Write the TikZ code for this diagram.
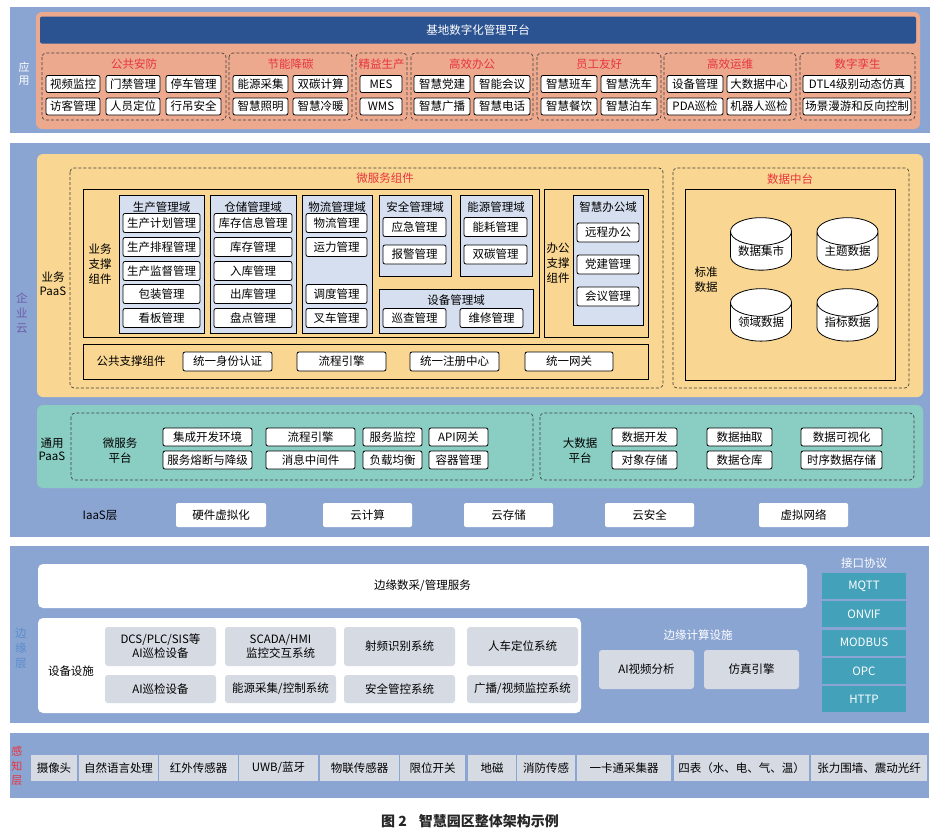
\documentclass[tikz,border=0pt]{standalone}
\usepackage{fontspec}
\setmainfont{Noto Sans CJK SC}
\usetikzlibrary{shapes.geometric}
\definecolor{layerblue}{RGB}{139,165,211}
\definecolor{appsalmon}{RGB}{236,169,141}
\definecolor{platblue}{RGB}{44,83,145}
\definecolor{paasyellow}{RGB}{249,214,145}
\definecolor{paasteal}{RGB}{138,205,194}
\definecolor{domainblue}{RGB}{214,223,240}
\definecolor{devgray}{RGB}{213,218,227}
\definecolor{prototeal}{RGB}{67,161,186}
\definecolor{titlered}{RGB}{232,52,62}
\definecolor{cloudpurple}{RGB}{108,92,168}
\definecolor{edgelabel}{RGB}{90,140,205}

\begin{document}
\begin{tikzpicture}[x=1pt,y=-1pt,font=\fontsize{11.5}{14}\selectfont]
  \tikzstyle{itembox}=[draw=black,fill=white,rounded corners=2pt,inner sep=0pt,line width=0.8pt]
  \tikzstyle{grp}=[draw=black!75,dash pattern=on 3pt off 2pt,line width=0.7pt,rounded corners=4pt]
  \tikzstyle{domainbox}=[draw=black,fill=domainblue,line width=0.8pt]
  \tikzstyle{solidframe}=[draw=black,line width=0.8pt]
  \tikzstyle{grptitle}=[text=titlered]
  \tikzstyle{lbl}=[align=center,inner sep=0pt,font=\fontsize{11.5}{15}\selectfont]
  \tikzstyle{graybox}=[fill=devgray,rounded corners=3pt,inner sep=0pt,align=center]
  \tikzstyle{cloudbox}=[fill=white,rounded corners=2pt,inner sep=0pt]
  \tikzstyle{proto}=[fill=prototeal,text=white,inner sep=0pt,minimum width=84pt,minimum height=26pt]
  \tikzstyle{db}=[cylinder,shape border rotate=90,aspect=0.6,draw=black,fill=white,line width=0.8pt,minimum width=61pt,minimum height=48pt,inner sep=0pt]

  \useasboundingbox (0,0) rectangle (938,836);
  \fill[white] (0,0) rectangle (938,836);

  % application layer
  \fill[layerblue] (10,7) rectangle (930,133);
  \node[lbl,text=white,font=\fontsize{11}{12.5}\selectfont] (l-app) at (24,74) {应\\用};
  \fill[appsalmon,rounded corners=6pt] (36,12) rectangle (920,129);
  \node[fill=platblue,text=white,rounded corners=2pt,minimum width=876pt,minimum height=27pt] (plat) at (478,30) {基地数字化管理平台};
  \foreach \title/\xa/\xb [count=\i] in {公共安防/42/226, 节能降碳/229/352, 精益生产/356/407, 高效办公/411/533, 员工友好/537/661, 高效运维/664/796, 数字孪生/800/915}{
    \draw[grp] (\xa,53) rectangle (\xb,120);
    \node[grptitle] (g-\i) at ({(\xa+\xb)/2},64) {\title};
  }
  \foreach \txt/\xa/\xb/\y [count=\i] in {视频监控/46/100/84, 门禁管理/106/160/84, 停车管理/166/221/84,
      访客管理/46/100/106.5, 人员定位/106/160/106.5, 行吊安全/166/221/106.5,
      能源采集/233/288/84, 双碳计算/293/348/84, 智慧照明/233/288/106.5, 智慧冷暖/293/348/106.5,
      MES/360/402/84, WMS/360/402/106.5,
      智慧党建/414/470/84, 智能会议/474/530/84, 智慧广播/414/470/106.5, 智慧电话/474/530/106.5,
      智慧班车/541/597/84, 智慧洗车/601/657/84, 智慧餐饮/541/597/106.5, 智慧泊车/601/657/106.5,
      设备管理/667/723/84, 大数据中心/727/791/84, PDA巡检/667/723/106.5, 机器人巡检/727/791/106.5,
      DTL4级别动态仿真/803/911/84, 场景漫游和反向控制/803/911/106.5}
    \node[itembox,minimum width={(\xb-\xa)*1pt},minimum height=17pt] (app-\i) at ({(\xa+\xb)/2},\y) {\txt};

  % enterprise cloud
  \fill[layerblue] (10,143) rectangle (930,537);
  \node[lbl,text=cloudpurple] (l-cloud) at (22,313) {企\\业\\云};
  \fill[paasyellow,rounded corners=6pt] (37,154) rectangle (923,397);
  \node[lbl,font=\fontsize{11.5}{14}\selectfont] (l-bpaas) at (53,284) {业务\\PaaS};
  \draw[grp] (70,168) rectangle (663,388);
  \node[grptitle] (t-ms) at (385,178) {微服务组件};
  \draw[solidframe] (83,189) rectangle (539,337);
  \node[lbl] (l-bsup) at (100,264) {业务\\支撑\\组件};
  \foreach \title/\xa/\ya/\xb/\yb [count=\i] in {生产管理域/119/195/204/333, 仓储管理域/210/195/296/333, 物流管理域/302/195/372/333, 安全管理域/379/195/451/276, 能源管理域/460/195/532/276}{
    \draw[domainbox] (\xa,\ya) rectangle (\xb,\yb);
    \node (d-\i) at ({(\xa+\xb)/2},207) {\title};
  }
  \draw[domainbox] (379,289) rectangle (533,333);
  \node (d-6) at (456,300) {设备管理域};
  \draw[solidframe] (544,189) rectangle (648,337);
  \node[lbl] (l-osup) at (558,263) {办公\\支撑\\组件};
  \draw[domainbox] (573,195) rectangle (643,325);
  \node (d-7) at (608,207) {智慧办公域};
  \draw[solidframe] (83,344) rectangle (648,379);
  \node (l-pub) at (131,361) {公共支撑组件};
  \foreach \txt/\xa/\xb/\y [count=\i] in {生产计划管理/123/200/223, 生产排程管理/123/200/247, 生产监督管理/123/200/271, 包装管理/123/200/294, 看板管理/123/200/318,
      库存信息管理/214/292/223, 库存管理/214/292/247, 入库管理/214/292/271, 出库管理/214/292/294, 盘点管理/214/292/318,
      物流管理/306/367/223, 运力管理/306/367/247, 调度管理/306/367/294, 叉车管理/306/367/318,
      应急管理/383/446/227, 报警管理/383/446/254.5, 能耗管理/464/527/227, 双碳管理/464/527/254.5,
      巡查管理/383/446/318, 维修管理/460/523/318,
      远程办公/577/639/232.5, 党建管理/577/639/264.5, 会议管理/577/639/296.5,
      统一身份认证/183/272/361.5, 流程引擎/297/386/361.5, 统一注册中心/410/499/361.5, 统一网关/525/613/361.5}
    \node[itembox,minimum width={(\xb-\xa)*1pt},minimum height=19pt] (ms-\i) at ({(\xa+\xb)/2},\y) {\txt};
  \draw[grp] (673,168) rectangle (909,388);
  \node[grptitle] (t-data) at (790,179) {数据中台};
  \draw[solidframe] (685,189) rectangle (895,380);
  \node[lbl] (l-std) at (706,280) {标准\\数据};
  \foreach \txt/\cx/\cy [count=\i] in {数据集市/761/251, 主题数据/847.5/251, 领域数据/761/322, 指标数据/847.5/322}
    \node[db] (db-\i) at (\cx,\cy) {\txt};

  \fill[paasteal,rounded corners=6pt] (37,405) rectangle (923,488);
  \node[lbl,font=\fontsize{11.5}{13}\selectfont] (l-gpaas) at (52,449) {通用\\PaaS};
  \draw[grp] (71,413) rectangle (533,480);
  \node[lbl] (l-msp) at (120,451) {微服务\\平台};
  \draw[grp] (540,413) rectangle (914,480);
  \node[lbl] (l-bdp) at (580,451) {大数据\\平台};
  \foreach \txt/\xa/\xb/\y [count=\i] in {集成开发环境/163/252/437, 服务熔断与降级/163/252/460, 流程引擎/266/355/437, 消息中间件/266/355/460,
      服务监控/363/422/437, 负载均衡/363/422/460, API网关/429/488/437, 容器管理/429/488/460,
      数据开发/612/677/437, 对象存储/612/677/460, 数据抽取/707/772/437, 数据仓库/707/772/460,
      数据可视化/801/882/437, 时序数据存储/801/882/460}
    \node[itembox,minimum width={(\xb-\xa)*1pt},minimum height=18pt] (gp-\i) at ({(\xa+\xb)/2},\y) {\txt};
  \node (l-iaas) at (100,515) {IaaS层};
  \foreach \txt/\xa/\xb [count=\i] in {硬件虚拟化/176/266, 云计算/323/412, 云存储/464/553, 云安全/605/694, 虚拟网络/759/848}
    \node[cloudbox,minimum width={(\xb-\xa)*1pt},minimum height=24pt] (iaas-\i) at ({(\xa+\xb)/2},515) {\txt};

  % edge layer
  \fill[layerblue] (10,546) rectangle (929,723);
  \node[lbl,text=edgelabel] (l-edge) at (21,648) {边\\缘\\层};
  \node[cloudbox,rounded corners=5pt,minimum width=769pt,minimum height=44pt] (edge-svc) at (422.5,586) {边缘数采/管理服务};
  \fill[white,rounded corners=5pt] (38,618) rectangle (581,713);
  \node (l-dev) at (71,671) {设备设施};
  \foreach \txt/\xa/\xb/\y/\h [count=\i] in {{DCS/PLC/SIS等\\AI巡检设备}/105/216/646.5/39, {SCADA/HMI\\监控交互系统}/225/336/646.5/39, 射频识别系统/344/455/646.5/39, 人车定位系统/467/578/646.5/39,
      AI巡检设备/105/216/689/28, {能源采集/控制系统}/225/336/689/28, 安全管控系统/344/455/689/28, {广播/视频监控系统}/467/578/689/28,
      AI视频分析/599/694/669.5/39, 仿真引擎/704/799/669.5/39}
    \node[graybox,minimum width={(\xb-\xa)*1pt},minimum height={\h*1pt}] (dev-\i) at ({(\xa+\xb)/2},\y) {\txt};
  \node[text=white] (l-ec) at (698,635) {边缘计算设施};
  \node[text=white] (l-proto) at (864,563) {接口协议};
  \foreach \txt/\y [count=\i] in {MQTT/586, ONVIF/614, MODBUS/642.5, OPC/671, HTTP/699}
    \node[proto] (p-\i) at (864,\y) {\txt};

  % perception layer
  \fill[layerblue] (10,733) rectangle (929,798);
  \node[lbl,text=titlered,font=\fontsize{11}{14.5}\selectfont] (l-sense) at (17,766) {感\\知\\层};
  \foreach \txt/\xa/\xb [count=\i] in {摄像头/31/77, 自然语言处理/79/158, 红外传感器/159/238, {UWB/蓝牙}/239/318, 物联传感器/320/399, 限位开关/400/465,
      地磁/468/516, 消防传感/517/575, 一卡通采集器/577/671, 四表（水、电、气、温）/674/809, 张力围墙、震动光纤/811/927}
    \node[fill=devgray,inner sep=0pt,minimum width={(\xb-\xa)*1pt},minimum height=26pt] (s-\i) at ({(\xa+\xb)/2},768) {\txt};

  \node[font=\fontsize{14}{16}\selectfont\bfseries,text=black!85] (cap) at (470,821) {图 2\hspace{12pt}智慧园区整体架构示例};
\end{tikzpicture}
\end{document}
